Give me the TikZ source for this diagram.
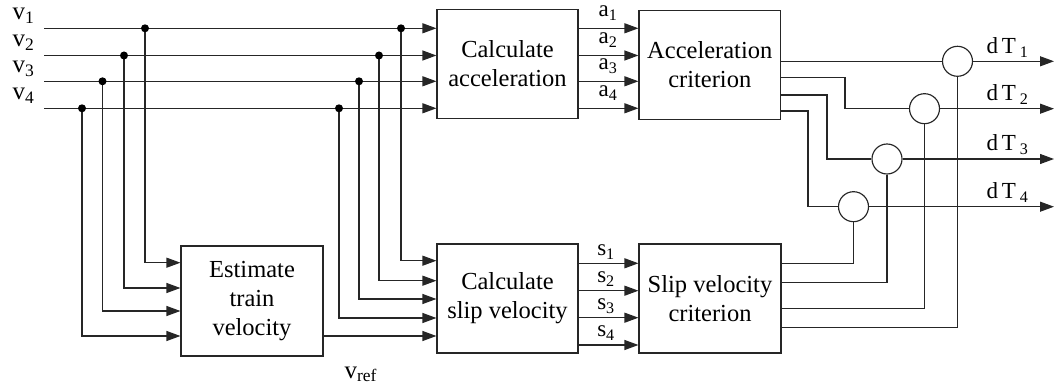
\documentclass[tikz,border=0pt]{standalone}
\usepackage{fontspec}
\setmainfont{Liberation Serif}
\usetikzlibrary{arrows.meta}
\begin{document}
\begin{tikzpicture}[x=1pt,y=-1pt,
  line width=1.15pt, draw=black!85,
  arr/.style={-{Triangle[length=14pt,width=10pt]}},
  blk/.style={draw=black!85, line width=1.15pt, rectangle, inner sep=0pt, align=center,
     font=\fontsize{24.5}{29}\selectfont},
  lab/.style={inner sep=0pt, anchor=base, font=\fontsize{23}{27}\selectfont},
  vlab/.style={inner sep=0pt, anchor=base west, font=\fontsize{25}{29}\selectfont},
  sumc/.style={draw=black!85, line width=1.15pt, circle, minimum size=30pt, inner sep=0pt},
  dot/.style={fill=black, draw=none}]
\useasboundingbox (0,0) rectangle (1055,387);

% blocks
\node[blk, minimum width=141pt, minimum height=109pt] (CA) at (507.5,64) {Calculate\\acceleration};
\node[blk, minimum width=141.5pt, minimum height=109pt] (AC) at (709.75,65) {Acceleration\\criterion};
\node[blk, minimum width=142pt, minimum height=110pt] (ET) at (252,301) {Estimate\\train\\velocity};
\node[blk, minimum width=141pt, minimum height=109pt] (CS) at (507.5,298.5) {Calculate\\slip velocity};
\node[blk, minimum width=142pt, minimum height=109pt] (SC) at (710,298.5) {Slip velocity\\criterion};

% summing circles
\node[sumc] (c1) at (957.5,61.3) {};
\node[sumc] (c2) at (924.5,108.7) {};
\node[sumc] (c3) at (887,159) {};
\node[sumc] (c4) at (853.5,206.7) {};

% input start points
\coordinate (v1) at (44,28.3);
\coordinate (v2) at (44,55.5);
\coordinate (v3) at (44,81.3);
\coordinate (v4) at (44,108.3);
% junctions (left)
\coordinate (d1) at (145,28.3);
\coordinate (d2) at (124,55.5);
\coordinate (d3) at (102.5,81.3);
\coordinate (d4) at (82,108.3);
% junctions (right)
\coordinate (r1) at (401,28.3);
\coordinate (r2) at (379,55.5);
\coordinate (r3) at (359,81.3);
\coordinate (r4) at (339,108.3);
% row levels
\coordinate (e1) at (0,262.7);
\coordinate (e2) at (0,288);
\coordinate (e3) at (0,311);
\coordinate (e4) at (0,336);
\coordinate (k1) at (0,260.7);
\coordinate (k2) at (0,280.7);
\coordinate (k3) at (0,299);
\coordinate (k4) at (0,318);
\coordinate (s1) at (0,263.3);
\coordinate (s2) at (0,290.7);
\coordinate (s3) at (0,317.7);
\coordinate (s4) at (0,345);
\coordinate (o1) at (0,61.3);
\coordinate (o2) at (0,77.7);
\coordinate (o3) at (0,95);
\coordinate (o4) at (0,111);
\coordinate (q1) at (0,263.3);
\coordinate (q2) at (0,282.7);
\coordinate (q3) at (0,308.3);
\coordinate (q4) at (0,327.3);
\coordinate (t1) at (1054,61.3);
\coordinate (t2) at (1054,108.7);
\coordinate (t3) at (1054,159);
\coordinate (t4) at (1054,206.7);

% inputs to Calculate acceleration
\foreach \i in {1,2,3,4} {
  \draw[arr] (v\i) -- (CA.west|-v\i);
  \draw[arr] (CA.east|-v\i) -- (AC.west|-v\i);
}
% to Estimate train velocity
\draw[arr] (d1) |- (ET.west|-e1);
\draw[arr] (d2) |- (ET.west|-e2);
\draw[arr] (d3) |- (ET.west|-e3);
\draw[arr] (d4) |- (ET.west|-e4);
% to Calculate slip velocity
\draw[arr] (r1) |- (CS.west|-k1);
\draw[arr] (r2) |- (CS.west|-k2);
\draw[arr] (r3) |- (CS.west|-k3);
\draw[arr] (r4) |- (CS.west|-k4);
\draw[arr] (ET.east|-e4) -- (CS.west|-e4);
% slip outputs
\foreach \i in {1,2,3,4} {
  \draw[arr] (CS.east|-s\i) -- (SC.west|-s\i);
}
% dots
\foreach \p in {d1,d2,d3,d4,r1,r2,r3,r4} { \fill[dot] (\p) circle (4pt); }

% acceleration criterion outputs
\draw (AC.east|-o1) -- (c1.west);
\draw (AC.east|-o2) -- (845,77.7) |- (c2.west);
\draw (AC.east|-o3) -- (827,95) |- (c3.west);
\draw (AC.east|-o4) -- (808,111) |- (c4.west);
% slip criterion outputs
\draw (SC.east|-q1) -| (c4.south);
\draw (SC.east|-q2) -| (c3.south);
\draw (SC.east|-q3) -| (c2.south);
\draw (SC.east|-q4) -| (c1.south);
% dT outputs
\draw[arr] (c1.east) -- (t1);
\draw[arr] (c2.east) -- (t2);
\draw[arr] (c3.east) -- (t3);
\draw[arr] (c4.east) -- (t4);

% labels
\node[vlab] (lv1) at (12,20) {v\textsubscript{1}};
\node[vlab] (lv2) at (12,47) {v\textsubscript{2}};
\node[vlab] (lv3) at (12,73) {v\textsubscript{3}};
\node[vlab] (lv4) at (12,100) {v\textsubscript{4}};
\node[lab] (la1) at (608,17) {a\textsubscript{1}};
\node[lab] (la2) at (608,44) {a\textsubscript{2}};
\node[lab] (la3) at (608,70) {a\textsubscript{3}};
\node[lab] (la4) at (608,97) {a\textsubscript{4}};
\node[lab] (ls1) at (606,256) {s\textsubscript{1}};
\node[lab] (ls2) at (606,283) {s\textsubscript{2}};
\node[lab] (ls3) at (606,310) {s\textsubscript{3}};
\node[lab] (ls4) at (606,337) {s\textsubscript{4}};
\node[lab, anchor=base west] (lt1) at (986,54) {d\,T\,\textsubscript{1}};
\node[lab, anchor=base west] (lt2) at (986,101) {d\,T\,\textsubscript{2}};
\node[lab, anchor=base west] (lt3) at (986,151) {d\,T\,\textsubscript{3}};
\node[lab, anchor=base west] (lt4) at (986,199) {d\,T\,\textsubscript{4}};
\node[vlab] (lvr) at (344,378) {v\textsubscript{ref}};
\end{tikzpicture}
\end{document}
